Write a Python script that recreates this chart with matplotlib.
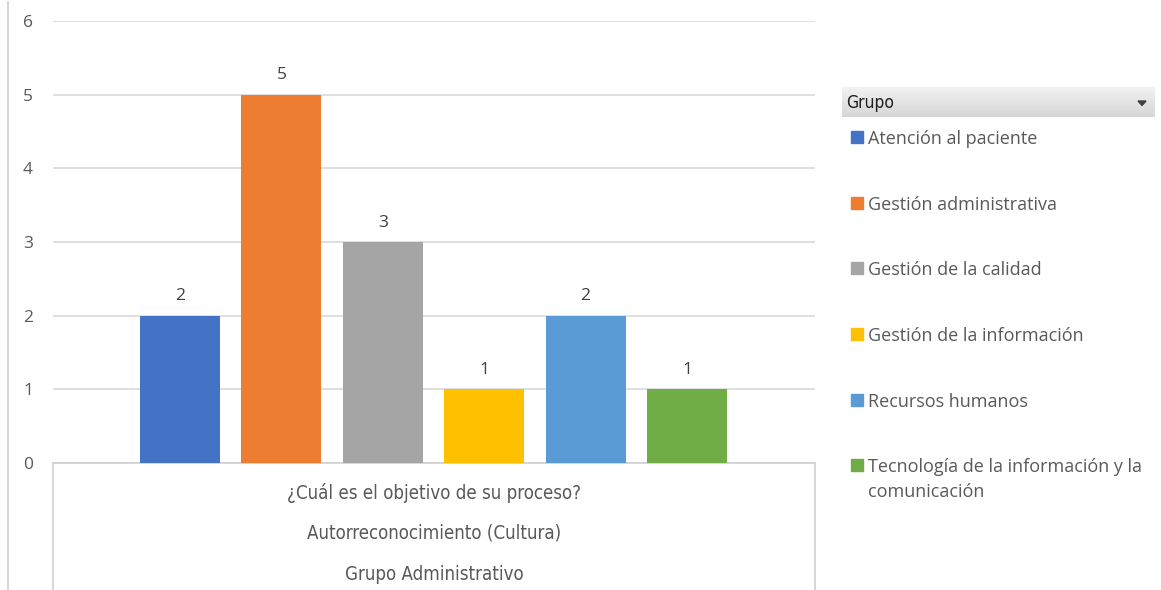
import matplotlib
matplotlib.use("Agg")
import matplotlib.pyplot as plt
import numpy as np
from matplotlib.patches import Rectangle, Polygon
from matplotlib.lines import Line2D

categories = ["Atención al paciente", "Gestión administrativa", "Gestión de la calidad",
              "Gestión de la información", "Recursos humanos",
              "Tecnología de la información y la\ncomunicación"]
values = [2, 5, 3, 1, 2, 1]
colors = ["#4472C4", "#ED7D31", "#A5A5A5", "#FFC000", "#5B9BD5", "#70AD47"]
axis_labels = ["¿Cuál es el objetivo de su proceso?", "Autorreconocimiento (Cultura)",
               "Grupo Administrativo"]
yticks = [0, 1, 2, 3, 4, 5, 6]
legend_title = "Grupo"

W, H = 1161, 590
fig = plt.figure(figsize=(W / 100, H / 100), dpi=100)
fig.patch.set_facecolor("white")

def fx(px):
    return px / W

def fy(py):
    return 1 - py / H

narrow = dict(family=["DejaVu Sans"], fontstretch="condensed")

ax_l, ax_r, ax_t, ax_b = 53, 815, 21, 463
ax = fig.add_axes([fx(ax_l), fy(ax_b), fx(ax_r - ax_l), (ax_b - ax_t) / H])
x = np.arange(len(values))
ax.bar(x, values, width=0.79, color=colors, zorder=3)
ax.set_xlim(-1.252, 6.262)
ax.set_ylim(0, 6)
ax.set_yticks(yticks)
ax.yaxis.grid(True, color="#d9d9d9", linewidth=1.2, zorder=0)
for s in ["top", "right", "left"]:
    ax.spines[s].set_visible(False)
ax.spines["bottom"].set_color("#d0d0d0")
ax.spines["bottom"].set_linewidth(1.2)
ax.set_xticks([])
ax.tick_params(axis="y", length=0, pad=14.4, labelsize=12.5, labelcolor="#595959")
for lab in ax.get_yticklabels():
    lab.set_fontfamily("Open Sans")
for xi, v in zip(x, values):
    ax.annotate(str(v), (xi, v), xytext=(0, 14), textcoords="offset points",
                ha="center", va="center", fontsize=12.5, color="#404040",
                fontfamily="Open Sans")

# outer border lines
fig.add_artist(Line2D([fx(7.5), fx(7.5)], [fy(2), fy(590)], color="#d9d9d9", lw=1.5))
fig.add_artist(Line2D([fx(ax_l), fx(ax_l)], [fy(ax_b), fy(590)], color="#d0d0d0", lw=1.2))
fig.add_artist(Line2D([fx(ax_r), fx(ax_r)], [fy(ax_b), fy(590)], color="#d0d0d0", lw=1.2))

# category axis labels
cx = (ax_l + ax_r) / 2
for lab, py in zip(axis_labels, [493, 533, 574]):
    fig.text(fx(cx), fy(py), lab, ha="center", va="center", fontsize=13.4,
             color="#595959", **narrow)

# legend header
hdr = fig.add_axes([fx(842), fy(117), fx(1155 - 842), 30 / H])
grad = np.linspace(0.95, 0.84, 50).reshape(-1, 1)
hdr.imshow(np.dstack([grad, grad, grad]), aspect="auto", extent=[0, 1, 0, 1])
hdr.set_axis_off()
fig.text(fx(846), fy(103), legend_title, ha="left", va="center", fontsize=12.5,
         color="#202020", **narrow)
fig.add_artist(Polygon([[fx(1138), fy(101)], [fx(1146), fy(101)], [fx(1142), fy(105.5)]],
                       closed=True, color="#404040"))

leg_y = [137, 203, 268, 334, 400, 465]
for cat, col, py in zip(categories, colors, leg_y):
    fig.add_artist(Rectangle((fx(851), fy(py + 6)), fx(12), 12 / H, color=col))
    fig.text(fx(868), fy(py - 7), cat, ha="left", va="top", fontsize=13,
             color="#595959", fontfamily="Open Sans", linespacing=1.5)

fig.savefig("out.png", dpi=100)
